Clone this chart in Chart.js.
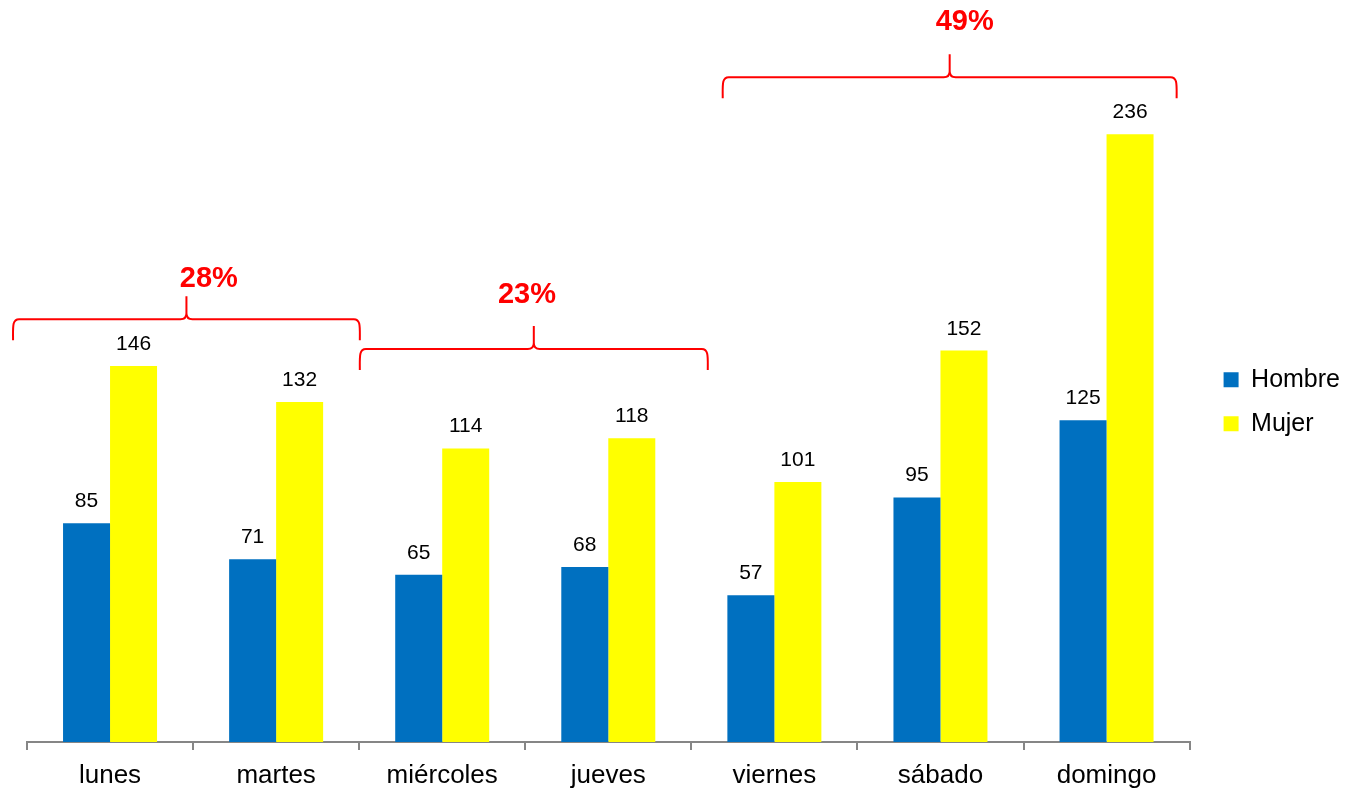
<!DOCTYPE html>
<html>
<head>
    <meta charset="utf-8">
    <title>Hombre / Mujer por día</title>
    <script src="https://cdn.jsdelivr.net/npm/chart.js"></script>
    <style>
        body { margin: 0; background: #fff; }
    </style>
</head>
<body>
    <canvas id="myChart" width="1350" height="789"></canvas>
    <script>
        // datos
        var dias = ['lunes', 'martes', 'miércoles', 'jueves', 'viernes', 'sábado', 'domingo'];
        var hombre = [85, 71, 65, 68, 57, 95, 125];
        var mujer = [146, 132, 114, 118, 101, 152, 236];

        // llaves de porcentaje: desde / hasta (índice de categoría), altura (valor)
        var llaveTexto = ['28%', '23%', '49%'];
        var llaveDesde = [-0.584, 1.504, 3.689];
        var llaveHasta = [1.504, 3.599, 6.422];
        var llaveAltura = [164.2, 152.6, 258.2];
        var llaveTextoX = [0.595, 2.51, 5.146];
        var llaveTextoY = [179.7, 173.5, 279.5];

        var FONT = '"Liberation Sans", Arial, sans-serif';

        var etiquetas = {
            id: 'etiquetas',
            afterDatasetsDraw: function (chart) {
                var ctx = chart.ctx;
                ctx.save();
                ctx.font = '21px ' + FONT;
                ctx.fillStyle = '#000';
                ctx.textAlign = 'center';
                ctx.textBaseline = 'alphabetic';
                chart.data.datasets.forEach(function (ds, i) {
                    chart.getDatasetMeta(i).data.forEach(function (bar, j) {
                        ctx.fillText(ds.data[j], bar.x, bar.y - 16);
                    });
                });
                ctx.restore();
            }
        };

        var llaves = {
            id: 'llaves',
            afterDraw: function (chart) {
                var ctx = chart.ctx;
                var xs = chart.scales.x, ys = chart.scales.y;
                ctx.save();
                ctx.strokeStyle = '#ff0000';
                ctx.lineWidth = 2;
                for (var i = 0; i < llaveTexto.length; i++) {
                    var x1 = xs.getPixelForValue(llaveDesde[i]);
                    var x2 = xs.getPixelForValue(llaveHasta[i]);
                    var y = ys.getPixelForValue(llaveAltura[i]);
                    var xm = (x1 + x2) / 2;
                    var r = 6, bajo = 21, alto = 23;
                    ctx.beginPath();
                    ctx.moveTo(x1, y + bajo);
                    ctx.bezierCurveTo(x1, y + 8, x1 - 1, y, x1 + r, y);
                    ctx.lineTo(xm - r, y);
                    ctx.quadraticCurveTo(xm, y, xm, y - r);
                    ctx.lineTo(xm, y - alto);
                    ctx.moveTo(xm, y - r);
                    ctx.quadraticCurveTo(xm, y, xm + r, y);
                    ctx.lineTo(x2 - r, y);
                    ctx.bezierCurveTo(x2 + 1, y, x2, y + 8, x2, y + bajo);
                    ctx.stroke();

                    ctx.font = 'bold 29px ' + FONT;
                    ctx.fillStyle = '#ff0000';
                    ctx.textAlign = 'center';
                    ctx.textBaseline = 'middle';
                    ctx.fillText(llaveTexto[i], xs.getPixelForValue(llaveTextoX[i]), ys.getPixelForValue(llaveTextoY[i]));
                }
                ctx.restore();
            }
        };

        var ctx = document.getElementById('myChart').getContext('2d');
        var myChart = new Chart(ctx, {
            type: 'bar',
            data: {
                labels: dias,
                datasets: [{
                    label: 'Hombre',
                    data: hombre,
                    backgroundColor: '#0070c0'
                }, {
                    label: 'Mujer',
                    data: mujer,
                    backgroundColor: '#ffff00'
                }]
            },
            options: {
                responsive: false,
                animation: false,
                categoryPercentage: 0.566,
                barPercentage: 1.0,
                layout: {
                    padding: { left: 27, right: 0, top: 21, bottom: 0 }
                },
                plugins: {
                    legend: {
                        position: 'right',
                        align: 'start',
                        // título vacío: sólo sirve para bajar los elementos de la leyenda
                        title: {
                            display: true,
                            text: '',
                            font: { size: 1 },
                            padding: { top: 326, bottom: 0 }
                        },
                        labels: {
                            boxWidth: 15,
                            boxHeight: 15,
                            padding: 19,
                            color: '#000',
                            font: { family: FONT, size: 25 }
                        }
                    },
                    tooltip: { enabled: false }
                },
                scales: {
                    x: {
                        grid: {
                            offset: true,
                            drawOnChartArea: false,
                            color: '#868686',
                            tickLength: 8,
                            lineWidth: 2
                        },
                        border: { color: '#868686', width: 2 },
                        ticks: {
                            color: '#000',
                            padding: 10,
                            font: { family: FONT, size: 26 }
                        },
                        afterFit: function (s) { s.height = 47; }
                    },
                    y: {
                        display: false,
                        min: 0,
                        max: 280
                    },
                    // hueco entre el área del gráfico y la leyenda
                    hueco: {
                        type: 'linear',
                        position: 'right',
                        grid: { display: false },
                        border: { display: false },
                        ticks: { display: false },
                        afterFit: function (s) { s.width = 15; }
                    }
                }
            },
            plugins: [etiquetas, llaves]
        });
    </script>
</body>
</html>
